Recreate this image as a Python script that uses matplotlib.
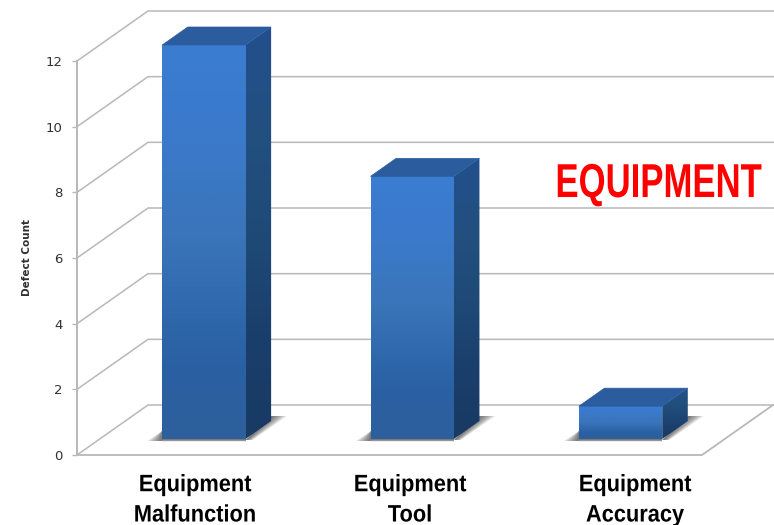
import numpy as np
import matplotlib
matplotlib.use("Agg")
import matplotlib.pyplot as plt
from matplotlib.patches import Polygon
from matplotlib.patheffects import AbstractPathEffect
from matplotlib.transforms import Affine2D
from matplotlib.colors import LinearSegmentedColormap

categories = ["Equipment\nMalfunction", "Equipment\nTool", "Equipment\nAccuracy"]
defect_counts = [12, 8, 1]
y_ticks = [0, 2, 4, 6, 8, 10, 12]
y_label = "Defect Count"
note = "EQUIPMENT"

W, H = 774, 525
PX_X = 625 / 3     # pixels per x unit
PX_Y = 394 / 12    # pixels per y unit


class Tall(AbstractPathEffect):
    # the reference uses a squeezed font, so stretch the glyphs upward
    def __init__(self, sy):
        super().__init__()
        self.sy = sy

    def draw_path(self, renderer, gc, tpath, affine, rgbFace=None):
        renderer.draw_path(gc, tpath, Affine2D().scale(1, self.sy) + affine, rgbFace)


fig = plt.figure(figsize=(W / 100, H / 100), dpi=100)
ax = fig.add_axes([77 / W, 1 - 455 / H, 625 / W, 394 / H])

# depth of the 3d box, in data units
DX = 71 / PX_X
DY = 50 / PX_Y


def proj(x, y, z):
    return (x + z * DX, y + z * DY)


def shift(p, ox, oy):
    # offset a data point by some pixels
    return (p[0] + ox / PX_X, p[1] - oy / PX_Y)


def grad_face(pts, colors, zorder):
    cmap = LinearSegmentedColormap.from_list("f", colors)
    xs = [p[0] for p in pts]
    ys = [p[1] for p in pts]
    grad = np.linspace(0, 1, 64).reshape(-1, 1)
    im = ax.imshow(grad, extent=[min(xs), max(xs), min(ys), max(ys)], cmap=cmap,
                   aspect="auto", origin="upper", zorder=zorder, interpolation="bilinear")
    im.set_clip_path(Polygon(pts, closed=True, transform=ax.transData))
    im.set_clip_box(fig.bbox)


# walls
grid_col = "#b8b8b8"
for v in y_ticks:
    a = proj(0, v, 0)
    b = proj(0, v, 1)
    c = proj(3.1, v, 1)
    ax.plot([a[0], b[0], c[0]], [a[1], b[1], c[1]], color=grid_col, lw=1.1, zorder=1, clip_on=False)
f = [proj(0, 0, 0), proj(3, 0, 0), proj(3, 0, 1)]
ax.plot([p[0] for p in f], [p[1] for p in f], color=grid_col, lw=1.3, zorder=1, clip_on=False)

BAR_W = 0.4
Z0, Z1 = 0.32, 0.68
front_cols = ["#3a7dd0", "#3b7ace", "#3b78c4", "#3a74b8", "#3069ad", "#2a5fa3", "#2d5f9c"]
side_cols = ["#234f8c", "#22507f", "#1f4a78", "#1b3f6c", "#183a63"]

for i, val in enumerate(defect_counts):
    x0 = i + 0.5 - BAR_W / 2
    x1 = i + 0.5 + BAR_W / 2
    fl = proj(x0, 0, Z0)
    fr = proj(x1, 0, Z0)
    br = proj(x1, 0, Z1)
    # soft shadows on the floor, stacked thin layers
    n = 10
    for k in range(n):
        t = 1 - k / n
        right = [shift(fr, 0, 1), shift(br, 0, -5), shift(br, 1 + 15 * t, -5), shift(fr, 1 + 6 * t, 1)]
        left = [shift(fl, -15 * t, 2), shift(fl, 0, 2), shift(fl, 0, -8)]
        under = [shift(fl, 0, 0), shift(fr, 0, 0), shift(fr, 0, 1 + 1.5 * t), shift(fl, 0, 1 + 1.5 * t)]
        for sh in (right, left, under):
            ax.add_patch(Polygon(sh, closed=True, fc="#2a2a2a", ec="none", alpha=0.09, zorder=2, clip_on=False))
    # the three faces of the bar
    front = [proj(x0, 0, Z0), proj(x1, 0, Z0), proj(x1, val, Z0), proj(x0, val, Z0)]
    side = [proj(x1, 0, Z0), proj(x1, 0, Z1), proj(x1, val, Z1), proj(x1, val, Z0)]
    top = [proj(x0, val, Z0), proj(x1, val, Z0), proj(x1, val, Z1), proj(x0, val, Z1)]
    grad_face(side, side_cols, 3)
    grad_face(front, front_cols, 4)
    ax.add_patch(Polygon(top, closed=True, fc="#2a5c9e", ec="#2a5c9e", lw=0.5, zorder=5, clip_on=False))

ax.set_xlim(0, 3)
ax.set_ylim(0, 12)
for s in ["top", "right", "bottom"]:
    ax.spines[s].set_visible(False)
ax.spines["left"].set_color(grid_col)
ax.spines["left"].set_linewidth(1.4)
ax.patch.set_visible(False)
ax.set_xticks([])
ax.set_yticks(y_ticks)
ax.tick_params(axis="y", length=3.5, width=1, color=grid_col, labelsize=9.5, labelcolor="#303030", pad=7)

fig.text(27 / W, 1 - 258 / H, y_label, rotation=90, ha="center", va="center",
         fontsize=7.5, fontweight="bold", color="#303030")

label_x = [195, 410, 635]
for lx, lab in zip(label_x, categories):
    fig.text(lx / W, 1 - 521.5 / H, lab, ha="center", va="baseline", fontsize=15.7,
             fontweight="bold", family="Liberation Sans", color="black", linespacing=1.58,
             path_effects=[Tall(1.09)])

fig.text(659 / W, 1 - 197 / H, note, ha="center", va="baseline", fontsize=25,
         fontweight="bold", family="Liberation Sans", color="#fe0000",
         path_effects=[Tall(1.37)])

fig.savefig("out.png", dpi=100)
